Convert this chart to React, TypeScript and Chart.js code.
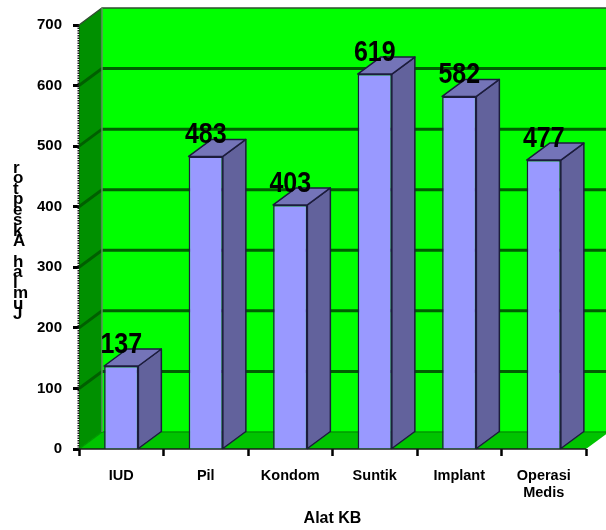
import React, { useEffect, useRef } from "react";
import { Chart, registerables } from "chart.js";

Chart.register(...registerables);

const categories = ["IUD", "Pil", "Kondom", "Suntik", "Implant", ["Operasi", "Medis"]];
const acceptors = [137, 483, 403, 619, 582, 477];
const yTitle = "Jumlah Akseptor";
const xTitle = "Alat KB";
const FONT = "'Liberation Sans', Arial, sans-serif";
const DX = 23;
const DY = 17;

const scene = {
  id: "scene",
  beforeDatasetsDraw(chart: any) {
    const { ctx, chartArea: a, scales } = chart;
    const y = scales.y;
    ctx.save();
    // back wall
    ctx.fillStyle = "#00ff00";
    ctx.fillRect(a.left + DX, a.top - DY, a.width + 30, a.height);
    // left wall
    ctx.fillStyle = "#009000";
    ctx.beginPath();
    ctx.moveTo(a.left, a.top);
    ctx.lineTo(a.left + DX, a.top - DY);
    ctx.lineTo(a.left + DX, a.bottom - DY);
    ctx.lineTo(a.left, a.bottom);
    ctx.closePath();
    ctx.fill();
    // floor
    ctx.fillStyle = "#00c400";
    ctx.beginPath();
    ctx.moveTo(a.left, a.bottom);
    ctx.lineTo(a.left + DX, a.bottom - DY);
    ctx.lineTo(a.right + DX, a.bottom - DY);
    ctx.lineTo(a.right, a.bottom);
    ctx.closePath();
    ctx.fill();
    // grid lines
    y.ticks.forEach((t: any) => {
      const py = y.getPixelForValue(t.value);
      const isFloor = t.value === 0;
      const isTop = t.value === y.max;
      ctx.strokeStyle = isFloor ? "#009a00" : isTop ? "#2f4f2f" : "#005f00";
      ctx.lineWidth = isFloor ? 1.5 : isTop ? 1.5 : 3;
      ctx.beginPath();
      ctx.moveTo(a.left, py);
      ctx.lineTo(a.left + DX, py - DY);
      ctx.lineTo(a.right + 30, py - DY);
      ctx.stroke();
    });
    // wall corner
    ctx.strokeStyle = "#5f8f5f";
    ctx.lineWidth = 1.5;
    ctx.beginPath();
    ctx.moveTo(a.left + DX, a.top - DY);
    ctx.lineTo(a.left + DX, a.bottom - DY);
    ctx.stroke();
    // front floor edge
    ctx.strokeStyle = "#1a1a1a";
    ctx.lineWidth = 1.5;
    ctx.beginPath();
    ctx.moveTo(a.left, a.bottom);
    ctx.lineTo(a.right, a.bottom);
    ctx.stroke();
    // left dotted axis
    ctx.setLineDash([1.5, 1]);
    ctx.lineWidth = 2;
    ctx.beginPath();
    ctx.moveTo(a.left - 0.5, a.top);
    ctx.lineTo(a.left - 0.5, a.bottom);
    ctx.stroke();
    ctx.setLineDash([]);
    ctx.restore();
  },
  afterDatasetsDraw(chart: any) {
    const { ctx } = chart;
    const meta = chart.getDatasetMeta(0);
    ctx.save();
    ctx.lineJoin = "round";
    meta.data.forEach((bar: any, i: number) => {
      const l = bar.x - bar.width / 2;
      const r = bar.x + bar.width / 2;
      const t = bar.y;
      const b = bar.base;
      ctx.strokeStyle = "#1c1c3c";
      ctx.lineWidth = 1.5;
      // side face
      ctx.fillStyle = "#62629c";
      ctx.beginPath();
      ctx.moveTo(r, t);
      ctx.lineTo(r + DX, t - DY);
      ctx.lineTo(r + DX, b - DY);
      ctx.lineTo(r, b);
      ctx.closePath();
      ctx.fill();
      ctx.stroke();
      // top face
      ctx.fillStyle = "#7474b8";
      ctx.beginPath();
      ctx.moveTo(l, t);
      ctx.lineTo(l + DX, t - DY);
      ctx.lineTo(r + DX, t - DY);
      ctx.lineTo(r, t);
      ctx.closePath();
      ctx.fill();
      ctx.stroke();
      // value label (vertically stretched as in the source image)
      ctx.save();
      ctx.translate(bar.x, t - 13);
      ctx.scale(1, 1.17);
      ctx.fillStyle = "#000";
      ctx.font = `bold 25px ${FONT}`;
      ctx.textAlign = "center";
      ctx.textBaseline = "alphabetic";
      ctx.fillText(String(acceptors[i]), 0, 0);
      ctx.restore();
    });
    // upright letters, reading bottom-to-top, left-aligned
    ctx.font = `bold 17px ${FONT}`;
    ctx.fillStyle = "#000";
    ctx.textAlign = "left";
    ctx.textBaseline = "middle";
    yTitle
      .split("")
      .reverse()
      .forEach((ch, i) => ctx.fillText(ch, 13, 168 + i * 10.47));
    ctx.restore();
  },
};

export default function App() {
  const ref = useRef<HTMLCanvasElement>(null);
  useEffect(() => {
    const chart = new Chart(ref.current!, {
      type: "bar",
      data: {
        labels: categories as any,
        datasets: [
          {
            label: "Akseptor",
            data: acceptors,
            backgroundColor: "#9999ff",
            borderColor: "#1c1c3c",
            borderWidth: 1.5,
            barPercentage: 0.405,
            categoryPercentage: 1,
          },
        ],
      },
      options: {
        responsive: false,
        animation: false,
        devicePixelRatio: 1,
        layout: { padding: { left: 0, right: 20, top: 25, bottom: 0 } },
        plugins: { legend: { display: false }, tooltip: { enabled: false } },
        scales: {
          x: {
            afterFit(s: any) {
              s.height = 81;
            },
            border: { display: false },
            grid: {
              offset: true,
              drawOnChartArea: false,
              drawTicks: true,
              tickLength: 7,
              tickWidth: 2.5,
              tickColor: "#000",
            },
            ticks: {
              color: "#000",
              maxRotation: 0,
              autoSkip: false,
              padding: 12,
              font: { family: FONT, size: 14.5, weight: "bold", lineHeight: 1.17 },
            },
            title: {
              display: true,
              text: xTitle,
              color: "#000",
              font: { family: FONT, size: 16, weight: "bold" },
              padding: { top: 0, bottom: 2 },
            },
          },
          y: {
            min: 0,
            max: 700,
            afterFit(s: any) {
              s.width = 79;
            },
            border: { display: false },
            grid: {
              drawOnChartArea: false,
              drawTicks: true,
              tickLength: 6,
              tickWidth: 3,
              tickColor: "#000",
            },
            ticks: {
              stepSize: 100,
              color: "#000",
              padding: 11,
              font: { family: FONT, size: 15, weight: "bold" },
            },
          },
        },
      },
      plugins: [scene],
    } as any);
    return () => chart.destroy();
  }, []);
  return (
    <canvas
      ref={ref}
      width={606}
      height={530}
      style={{ position: "fixed", left: 0, top: 0, display: "block" }}
    />
  );
}
